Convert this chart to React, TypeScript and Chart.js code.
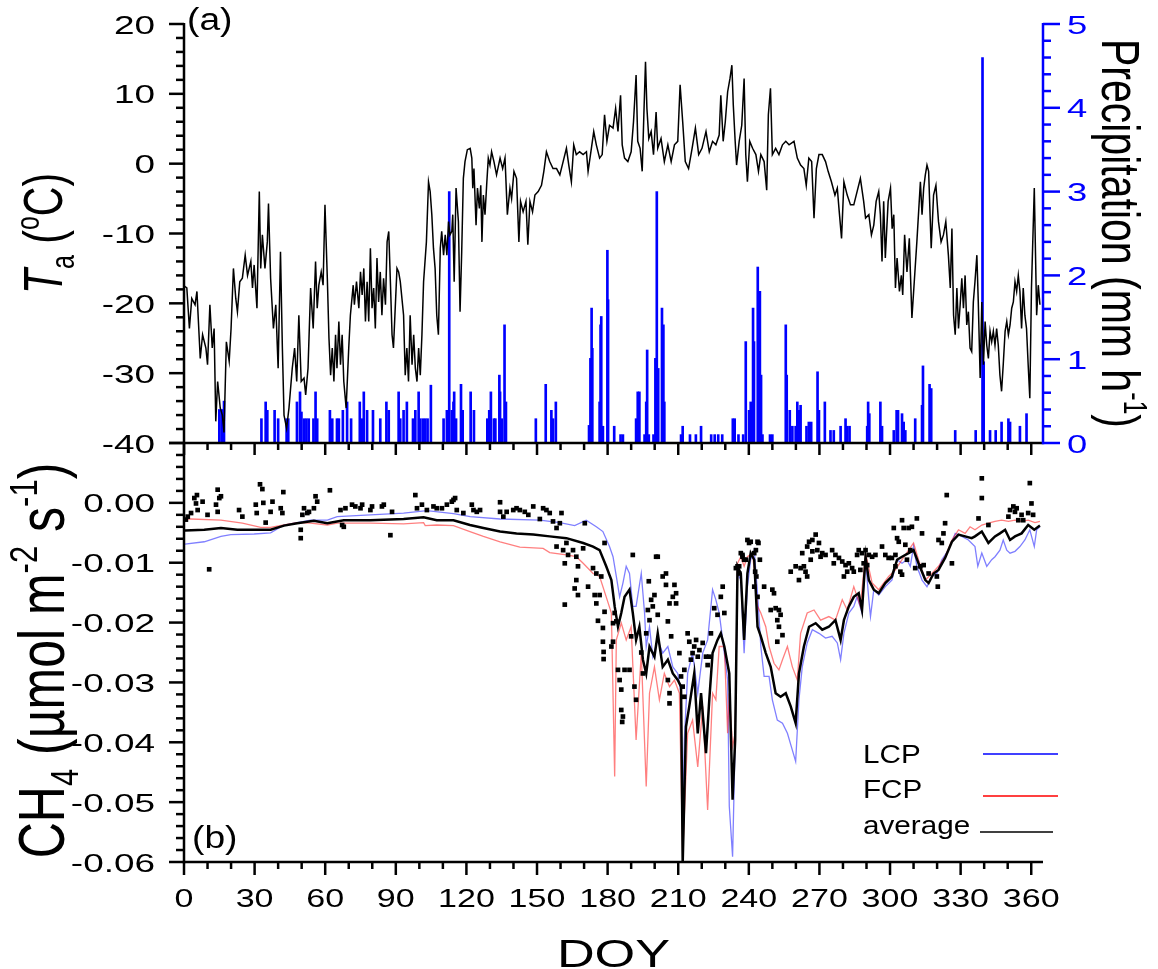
import React, { useEffect, useRef } from 'react';
import { Chart, registerables } from 'chart.js';

Chart.register(...registerables);

const W = 1158;
const H = 969;
const FONT = '"Liberation Sans", Arial, Helvetica, sans-serif';

// ---------- DATA (DOY, value) ----------
// Air temperature (°C)
const tempSeries: [number, number][] = [
  [0, -17.5], [1.2, -17.8], [2.3, -23.6], [3.3, -19.3], [4.7, -20.2], [5.5, -18.3], [6.9, -27.9], [7.9, -24.5],
  [9.3, -26.4], [10, -28.8], [11, -20.2], [12, -26.4], [12.8, -23.6], [13.5, -36.9], [14.3, -31.2], [15.4, -35],
  [16.3, -36], [17, -38.5], [18, -25.5], [19.2, -28.3], [20, -23.6], [21, -15], [22, -19.3], [22.7, -21.2],
  [23.7, -16.9], [24.8, -16.4], [26, -13.1], [27, -16], [28.4, -14], [29.1, -17.8], [29.8, -14.5], [31, -20.7],
  [32, -4], [32.6, -15], [33.3, -10.2], [34.4, -15], [35.4, -11.2], [35.9, -5.7], [36.8, -16.4], [38, -23.6],
  [39, -20.2], [40, -29.3], [41, -12.6], [41.8, -26.4], [42.5, -36], [43.6, -37.9], [44.6, -35], [46, -29.3],
  [47, -26.4], [47.9, -31.2], [48.8, -21.7], [49.8, -31.2], [51, -30.7], [51.7, -33.1], [52.7, -29.3], [53.8, -17.8],
  [54.9, -23.6], [55.9, -14], [56.6, -20.7], [57.3, -17.4], [58.3, -15.5], [59.1, -17.4], [59.9, -5.9], [60.9, -16.4],
  [61.6, -25], [62.3, -30.3], [63, -26.4], [63.7, -31.2], [64.4, -24.5], [65, -29.3], [65.8, -22.6], [66.5, -28.8],
  [67.2, -24.5], [67.9, -31.2], [68.9, -35], [70, -26.4], [70.7, -21.7], [71.9, -17.4], [72.4, -20.2], [73.3, -16.9],
  [74.3, -20.7], [75, -15.5], [75.7, -18.8], [76.4, -15], [77.1, -22.6], [77.8, -16.9], [78.5, -22.6], [79.2, -12.1],
  [79.9, -20.7], [80.6, -17.8], [81.3, -23.6], [82, -13.5], [82.7, -19.8], [83.4, -15.5], [84.1, -21.7], [84.8, -16.4],
  [85.6, -20.2], [86.3, -11.2], [87, -9.7], [87.7, -16.9], [88.4, -24.5], [89, -26.4], [90.5, -15], [91.2, -15.5],
  [91.9, -16.9], [93.3, -21.7], [94, -30.3], [94.7, -26.4], [95.4, -31.2], [96.1, -21.7], [96.9, -28.8], [97.6, -24.5],
  [98.3, -29.3], [99, -31.2], [99.7, -26.4], [100.4, -30.3], [101.1, -24.5], [101.8, -16.9], [103, -11.2], [103.9, -2.6],
  [104.6, -4], [105.3, -7.3], [106, -12.1], [106.7, -15], [107.4, -21.7], [108.1, -24.5], [108.9, -12.1], [109.5, -9.7],
  [110.3, -13.1], [111, -10.2], [111.7, -13.1], [112.4, -8.3], [113, -10.2], [113.8, -9.7], [114.2, -7.3], [114.8, -16.9],
  [115.6, -3.5], [116.6, -8.3], [117.3, -21.2], [118, -12.6], [118.7, -2.1], [119.4, 0.3], [120.4, 2], [121.6, 2.2],
  [122.3, 0.8], [122.7, -3.5], [123.2, -0.7], [124.1, -8.8], [124.7, -3.5], [125.5, -6.4], [126.1, -3.1], [126.6, -11.2],
  [127.2, -4.5], [127.9, -7.3], [128.6, -3.1], [129.3, 0.8], [130, -0.2], [130.7, 1.7], [131.7, 0.3], [132.8, -1.6],
  [134.3, 0.8], [135.4, -0.7], [136.4, 0.8], [137.4, -7.3], [138.5, -3.5], [139.2, -5], [140.2, -1.1], [141.3, -2.1],
  [142.3, -11.2], [143, -5.4], [144.1, -6.9], [145.3, -5.4], [146.1, -11.6], [147, -5.4], [148.1, -6.9], [149.1, -4.5],
  [150.5, -4], [151.9, -3.1], [152.9, -1.1], [154, 1.7], [155.4, 0.3], [156.8, -0.7], [158.3, -0.7], [159.7, -1.6],
  [161.1, 0.3], [162.5, 2.2], [163.5, -0.2], [164.6, -2.6], [165.6, 2.7], [166.7, 1.3], [168.1, 1.7], [169.6, 1.3],
  [171, 1.7], [171.7, -1.1], [173.1, 2.2], [174.1, 4.6], [175.2, 2.7], [176.6, 0.8], [177.7, 1.3], [178.7, 7],
  [179.7, 3.2], [180.8, 5.5], [182.3, 5.1], [183.4, 7.9], [184.4, 4.6], [185.5, 9.8], [186.2, 2.7], [187.2, 0.8],
  [188.6, 0.3], [190, 1.7], [191, 6], [192.1, 12.7], [192.8, 3.2], [193.8, 2.2], [194.7, -1.1], [195.4, 7],
  [196.1, 14.6], [196.7, 7.9], [197.5, 3.6], [198.5, 4.6], [199.5, 1.3], [200.6, 7.4], [201.3, 2.2], [202.7, 3.6],
  [204.1, 0.3], [205.6, 2.7], [207, 0.3], [208.4, 2.7], [209.8, 3.2], [210.8, 11.3], [211.9, 6], [213, 0.3],
  [214.4, -0.7], [215.9, 2.2], [217.3, 5.1], [218.7, 1.3], [220.1, 2.2], [221.8, 4.6], [223.2, 1.7], [224.6, 3.2],
  [226, 2.7], [227.4, 4.1], [228.1, 9.8], [229.1, 3.2], [230, 6], [231, 10.3], [232, 12.2], [232.8, 14.1],
  [233.4, 8.4], [234.2, 3.2], [234.8, -0.2], [235.9, 3.2], [237, 5.5], [238, 12.2], [238.7, 1.3], [239.4, -2.6],
  [240.4, 3.2], [241.6, 2.2], [243, 1.3], [244.1, -1.1], [245.1, 1.3], [246.5, 0.3], [247.6, -3.8], [248.3, 7],
  [249.2, 10.8], [250, 1.3], [251.4, 2.2], [252.8, 1.3], [254.3, 2.7], [255.7, 3.2], [257.1, 2.7], [259.2, 3.2],
  [260.6, 0.8], [262, -0.2], [263.4, -0.7], [264.4, -3.1], [265.5, 0.8], [266.7, 0.3], [267.7, -7.8], [268.7, -0.7],
  [269.8, 1.3], [271.2, 1.3], [272.6, 0.3], [273.7, -1.1], [275.1, -2.6], [276.6, -4.5], [277.6, -3.5], [278.3, -6.4],
  [279.4, -10.7], [280.4, -2.6], [281.8, -4.5], [283.2, -5.9], [284.6, -5.9], [286, -4], [287.4, -2.1], [288.8, -5.4],
  [289.6, -7.8], [291, -7.3], [292.1, -10.2], [293.1, -8.8], [294.1, -5.4], [295.2, -4], [295.9, -7.3], [296.6, -14],
  [297.3, -5.4], [298, -13.5], [299.2, -5.4], [300.2, -3.5], [300.9, -9.3], [301.6, -7.3], [302.3, -17.8], [303, -13.5],
  [304, -18.3], [304.8, -16], [305.4, -18.8], [306.2, -10.2], [307.2, -15.5], [308.2, -10.7], [308.6, -15], [309.3, -22.1],
  [310.3, -16.9], [311.4, -11.2], [312.9, -2.6], [313.6, -7.3], [314.3, -3.5], [315, -1.6], [315.7, -0.2], [316.4, -1.1],
  [317.5, -12.1], [318.5, -4.5], [319.5, -3.1], [320.6, -8.3], [321.7, -11.2], [322.7, -10.2], [323.7, -8.3], [324.8, -13.1],
  [325.6, -17.8], [326.3, -9.3], [327, -21.7], [327.7, -24.5], [328.4, -17.8], [329.1, -23.6], [329.8, -20.2], [330.5, -16.4],
  [331.2, -20.7], [331.9, -16], [332.6, -23.1], [333.3, -21.2], [334, -26.4], [334.7, -26.9], [335.4, -19.8], [336.1, -16.9],
  [336.9, -13.1], [337.5, -19.8], [338.3, -30.7], [339, -19.8], [339.7, -28.8], [340.4, -22.6], [341.1, -26], [341.8, -27.9],
  [342.5, -24], [343.2, -25.5], [343.9, -24], [344.6, -26], [345.3, -23.6], [346, -26], [346.7, -30.3], [347.4, -32.6],
  [348.1, -28.8], [348.9, -24], [349.6, -22.6], [350.3, -24.5], [351, -23.1], [351.7, -20.7], [352.4, -19.8], [353.1, -16.9],
  [353.8, -18.3], [354.5, -16], [355.2, -18.3], [355.9, -23.6], [356.6, -17.8], [357.3, -21.7], [358, -23.6], [358.7, -28.8],
  [359.4, -33.6], [360.1, -17.8], [361.3, -3.5], [362.3, -21.7], [363, -17.4], [363.7, -20.2],
];

// Precipitation (mm h-1)
const precipSeries: [number, number][] = [
  [15, 0.4], [16, 0.4], [17, 0.5], [32.9, 0.29], [34.7, 0.49], [35.4, 0.39], [38.5, 0.39], [40, 0.29], [43.6, 0.29],
  [44.3, 0.29], [48, 0.49], [49.3, 0.61], [49.9, 0.37], [51, 0.29], [52, 0.29], [53, 0.29], [55, 0.29], [55.9, 0.61],
  [56.6, 0.29], [62, 0.39], [63, 0.29], [65, 0.29], [65.8, 0.29], [67.5, 0.39], [69.3, 0.49], [71, 0.29], [74.7, 0.49],
  [75.7, 0.29], [76.4, 0.61], [77.8, 0.39], [80.3, 0.39], [83.4, 0.29], [86, 0.49], [87, 0.39], [91.2, 0.61], [91.9, 0.29],
  [93.3, 0.39], [94.7, 0.49], [97.3, 0.29], [98.3, 0.39], [99.7, 0.61], [100.4, 0.29], [101.5, 0.29], [102.5, 0.29],
  [103.5, 0.29], [104.9, 0.69], [110.3, 0.29], [111.7, 0.39], [112.7, 3.0], [113.8, 0.39], [114.5, 0.49], [114.8, 0.61],
  [115.6, 0.29], [117.7, 0.7], [118.4, 0.39], [121.8, 0.61], [123.2, 0.39], [128.9, 0.29], [129.7, 0.39], [130.4, 0.61],
  [131.7, 0.29], [132.3, 0.29], [134, 0.81], [134.3, 0.61], [135, 0.29], [136.2, 1.41], [136.8, 0.49], [149.5, 0.29],
  [153.7, 0.7], [156.1, 0.39], [156.8, 0.29], [158, 0.49], [172.1, 0.21], [172.7, 1.01], [173.2, 1.61], [173.5, 1.13],
  [176.6, 0.49], [177, 1.41], [177.3, 1.51], [178, 0.2], [179.9, 2.3], [180.2, 1.71], [182.8, 0.2], [185.5, 0.1],
  [186.5, 0.1], [192.1, 0.29], [192.8, 0.61], [193.5, 0.61], [195.7, 0.1], [196.4, 0.49], [196.8, 1.11], [197.5, 0.1],
  [199.5, 0.1], [200.3, 1.01], [200.9, 3.0], [201.5, 0.89], [203.1, 1.61], [203.7, 1.41], [204.1, 0.49], [211.2, 0.1],
  [211.9, 0.2], [215, 0.1], [217.5, 0.1], [219.7, 0.2], [224, 0.1], [225.5, 0.1], [227, 0.1], [228.7, 0.1], [233.2, 0.29],
  [234, 0.29], [235.6, 0.1], [237.6, 0.1], [238.7, 1.21], [240.1, 0.39], [240.8, 0.49], [241.8, 1.61], [242.2, 1.21],
  [243.8, 2.1], [244.7, 1.81], [245.2, 0.81], [245.8, 0.1], [249, 0.1], [250, 0.1], [255.7, 1.41], [256.1, 0.81],
  [257.4, 0.39], [258.5, 0.2], [259.9, 0.2], [260.6, 0.49], [261.3, 0.39], [262, 0.45], [264.5, 0.2], [265.5, 0.25],
  [266.5, 0.25], [269.2, 0.85], [269.8, 0.39], [272.3, 0.49], [274.7, 0.15], [276.1, 0.15], [279, 0.2], [281.1, 0.29],
  [281.8, 0.2], [282.8, 0.2], [290.3, 0.2], [290.7, 0.49], [291.2, 0.35], [295.9, 0.49], [296.6, 0.2], [301.6, 0.15],
  [302.8, 0.39], [303.4, 0.39], [305.1, 0.35], [305.8, 0.25], [306.5, 0.15], [310.7, 0.29], [313.6, 0.45], [314, 0.92],
  [316.8, 0.7], [317.5, 0.65], [327.7, 0.15], [336.4, 0.15], [339.3, 4.6], [339.8, 0.97], [342.5, 0.15], [344.9, 0.15],
  [347.4, 0.25], [350.3, 0.29], [351, 0.25], [355.2, 0.2], [358, 0.35],
];

// CH4 flux, LCP (µmol m-2 s-1)
const lcpSeries: [number, number][] = [
  [0.4, -0.0069], [8.6, -0.0065], [15.7, -0.0056], [19.9, -0.0053], [29.8, -0.0052], [36.8, -0.005], [42.5, -0.0037],
  [48.1, -0.0033], [53.8, -0.0029], [60.9, -0.0029], [65.1, -0.0023], [79.2, -0.002], [93.3, -0.0017], [103.2, -0.0013],
  [114.5, -0.0018], [121.6, -0.0023], [134.3, -0.0027], [151.2, -0.0029], [159.7, -0.0033], [166, -0.0038], [170.9, -0.0029],
  [175.2, -0.004], [178, -0.0048], [180.8, -0.0073], [182.3, -0.009], [183.7, -0.0123], [185.1, -0.0157], [186.5, -0.0134],
  [187.9, -0.0106], [189.3, -0.0118], [190.7, -0.0173], [192.1, -0.0173], [194.3, -0.0118], [195.7, -0.0184], [196.4, -0.024],
  [197.8, -0.0207], [199.2, -0.0257], [201.3, -0.0229], [203.4, -0.0251], [205.6, -0.024], [207.7, -0.0274], [209.8, -0.0285],
  [211.2, -0.0318], [211.9, -0.0535], [212.6, -0.0396], [214, -0.0285], [216.1, -0.0251], [218.3, -0.0318], [220.4, -0.0251],
  [222.5, -0.0229], [224.6, -0.0145], [226, -0.0162], [227.4, -0.0184], [228.9, -0.0229], [231, -0.0296], [231.7, -0.0507],
  [233.1, -0.0591], [234.2, -0.0396], [235.2, -0.0118], [236.6, -0.0129], [238, -0.0251], [239.4, -0.014], [240.8, -0.0095],
  [242.3, -0.0079], [243.7, -0.0151], [245.1, -0.024], [246.5, -0.029], [248.6, -0.029], [250, -0.0329], [252.1, -0.0363],
  [254.3, -0.0368], [256.4, -0.0385], [258.5, -0.0413], [259.9, -0.0432], [261.3, -0.0329], [262.7, -0.0274], [264.8, -0.0234],
  [267, -0.0212], [269.8, -0.0218], [272.6, -0.0226], [275.4, -0.0223], [277.6, -0.0234], [279, -0.0262], [280.4, -0.0218],
  [282.5, -0.0184], [284.6, -0.0173], [286, -0.0157], [288.1, -0.0184], [289.6, -0.0095], [291, -0.0162], [291.7, -0.019],
  [293.1, -0.0145], [295.2, -0.0154], [298, -0.014], [300.8, -0.0129], [303, -0.0095], [305.1, -0.0101], [307.2, -0.0095],
  [308.6, -0.0106], [310, -0.0073], [311.4, -0.0106], [313.6, -0.0129], [315.7, -0.014], [317.8, -0.0123], [319.9, -0.0118],
  [322, -0.0095], [324.8, -0.0079], [327.7, -0.0051], [330.5, -0.0056], [333.3, -0.0062], [336.1, -0.0073], [337.3, -0.0106],
  [339, -0.0084], [341.1, -0.0106], [343.2, -0.0095], [344.6, -0.009], [346.7, -0.0079], [348.1, -0.0062], [349.6, -0.0079],
  [351, -0.0084], [353.1, -0.0081], [355.2, -0.0073], [357.3, -0.0062], [359.4, -0.0045], [361.3, -0.0073], [362.3, -0.0045],
  [363.7, -0.004],
];

// CH4 flux, FCP
const fcpSeries: [number, number][] = [
  [0.4, -0.0027], [3, -0.0027], [15.7, -0.0029], [24.8, -0.0034], [32.6, -0.0041], [36.8, -0.0041], [42.5, -0.0037],
  [48.1, -0.0033], [53.8, -0.0034], [60.9, -0.0037], [65.1, -0.0034], [79.2, -0.0034], [93.3, -0.0035], [101.8, -0.0033],
  [102.5, -0.0038], [107.4, -0.0037], [114.5, -0.0038], [121.5, -0.0048], [127.2, -0.0056], [134.3, -0.0065], [142.7, -0.0074],
  [152.6, -0.0076], [155.4, -0.0083], [162.5, -0.0087], [166.7, -0.009], [169.6, -0.0101], [173.8, -0.0118], [176.6, -0.0123],
  [179.4, -0.0157], [181.6, -0.0184], [183, -0.0457], [183.7, -0.0229], [185.8, -0.0201], [187.9, -0.0229], [190, -0.0207],
  [192.1, -0.0396], [194.3, -0.0251], [196.4, -0.0474], [197.8, -0.0318], [199.9, -0.0274], [202, -0.0329], [204.1, -0.0285],
  [206.3, -0.0307], [208.4, -0.0296], [210.5, -0.0318], [211.9, -0.0591], [214, -0.0385], [216.1, -0.0363], [218.3, -0.0441],
  [220.4, -0.034], [222.5, -0.0513], [224.6, -0.0318], [226, -0.0329], [227.4, -0.024], [229.6, -0.024], [231, -0.0385],
  [231.7, -0.0318], [233.1, -0.0407], [234.2, -0.0385], [235.2, -0.0101], [236.6, -0.009], [238, -0.0106], [239.4, -0.009],
  [241.6, -0.0084], [243.7, -0.0173], [245.1, -0.0184], [247.2, -0.0207], [248.6, -0.024], [250.7, -0.0268], [252.8, -0.0279],
  [254.3, -0.0262], [256.4, -0.024], [258.5, -0.0274], [260.6, -0.0296], [262, -0.0218], [264.8, -0.0184], [267.7, -0.0179],
  [270.5, -0.0196], [274, -0.019], [276.8, -0.0196], [279.7, -0.0162], [281.8, -0.0179], [284.6, -0.014], [287.4, -0.0173],
  [289.6, -0.0084], [292.4, -0.0134], [295.2, -0.0145], [299.4, -0.0123], [302.3, -0.0112], [305.1, -0.0095], [307.9, -0.0079],
  [310, -0.0067], [312.1, -0.0095], [315, -0.0129], [317.8, -0.0118], [320.6, -0.0106], [323.4, -0.009], [326.3, -0.0062],
  [329.1, -0.0045], [331.9, -0.0051], [334, -0.004], [336.1, -0.0045], [339, -0.0037], [341.8, -0.0034], [344.6, -0.0031],
  [347.4, -0.0029], [350.3, -0.0031], [353.1, -0.0029], [355.9, -0.0031], [358.7, -0.0029], [361.6, -0.0033], [363.7, -0.0031],
];

// CH4 flux, average
const avgSeries: [number, number][] = [
  [0.4, -0.0046], [8.6, -0.0045], [15.7, -0.0042], [22.7, -0.0045], [29.8, -0.0045], [36.8, -0.0045], [42.5, -0.0038],
  [48.1, -0.0034], [55.2, -0.003], [60.9, -0.0034], [67.9, -0.0029], [79.2, -0.0029], [93.3, -0.0027], [101.8, -0.0024],
  [107.4, -0.0029], [114.5, -0.0029], [121.5, -0.0037], [127.2, -0.0042], [134.3, -0.0048], [141.3, -0.0051], [148.4, -0.0053],
  [155.4, -0.0056], [162.5, -0.0059], [169.6, -0.0067], [173.8, -0.0073], [176.6, -0.0079], [179.4, -0.0106], [181.6, -0.0129],
  [183, -0.0173], [184.4, -0.0207], [185.8, -0.0184], [187.2, -0.0157], [189.3, -0.0145], [190.7, -0.0184], [192.1, -0.0229],
  [193.5, -0.0207], [195, -0.0262], [196.4, -0.0285], [197.8, -0.024], [199.9, -0.0257], [201.3, -0.0218], [203.4, -0.0274],
  [205.6, -0.0262], [207.7, -0.0285], [209.8, -0.0296], [211.2, -0.0307], [211.9, -0.0602], [213.3, -0.0374], [214.7, -0.034],
  [216.8, -0.0285], [218.3, -0.0385], [219.7, -0.0318], [221.8, -0.0418], [223.2, -0.0329], [224.6, -0.0251], [226.7, -0.0229],
  [228.1, -0.0218], [229.6, -0.024], [231.7, -0.0285], [233.1, -0.0496], [234.2, -0.0396], [235.2, -0.0106], [236.6, -0.0118],
  [238, -0.0229], [239.4, -0.0118], [240.8, -0.0084], [242.3, -0.0095], [243.7, -0.0207], [245.1, -0.0223], [247.2, -0.0251],
  [249.3, -0.0274], [251.4, -0.0318], [253.5, -0.0324], [255.7, -0.0318], [257.8, -0.034], [259.9, -0.0368], [261.3, -0.0285],
  [263.4, -0.024], [265.6, -0.0207], [268.4, -0.0201], [271.2, -0.0212], [274, -0.0207], [276.8, -0.0196], [279, -0.0229],
  [280.4, -0.0196], [282.5, -0.0173], [284.6, -0.0157], [286.7, -0.0151], [288.1, -0.0179], [289.6, -0.009], [291, -0.0129],
  [293.1, -0.0145], [295.2, -0.0151], [298, -0.0134], [300.8, -0.0123], [303, -0.0095], [305.1, -0.009], [307.9, -0.0084],
  [310, -0.0079], [312.1, -0.0101], [315, -0.0129], [316.4, -0.0134], [318.5, -0.0118], [320.6, -0.0112], [323.4, -0.0092],
  [326.3, -0.0065], [329.1, -0.0053], [331.9, -0.0056], [334.7, -0.0059], [336.1, -0.0056], [339, -0.0048], [341.8, -0.0067],
  [344.6, -0.0056], [346.7, -0.0051], [348.9, -0.0045], [351, -0.0062], [353.1, -0.0056], [355.9, -0.0051], [358.7, -0.0037],
  [361.3, -0.0045], [363.7, -0.0038],
];

// CH4 flux, individual measurements (black squares)
const obsPoints: [number, number][] = [
  [0.8, -0.0028], [1.6, -0.0023], [3, -0.0017], [4.4, 0.0008], [5.5, 0.0013], [5.1, -0.0001], [5.8, -0.0012], [7.9, 0.0002],
  [10, -0.002], [10.7, -0.0111], [13.6, -0.0003], [14.3, 0.0022], [15, 0.0008], [15.7, 0.0011], [14.3, -0.0015], [23.4, -0.0012],
  [24.8, -0.0023], [30.5, -0.0003], [30.9, -0.0017], [32.3, 0.0031], [33.3, 0.0023], [33.7, 0], [34.7, -0.0033], [36.8, -0.0015],
  [37.6, 0.0002], [41.1, -0.0009], [41.8, -0.0017], [42.2, 0.0018], [49.6, -0.0045], [49.6, -0.0059], [50.3, -0.002], [51, -0.0009],
  [52.4, -0.0017], [53.1, -0.0015], [55.2, -0.0009], [55.9, 0.0011], [56.6, 0.0002], [62, 0.0021], [66.5, -0.0012], [67.2, -0.0037],
  [67.9, -0.004], [68.6, -0.0009], [71.4, -0.0003], [72.8, -0.0006], [75, -0.0009], [75.7, -0.0003], [79.2, -0.0012], [79.9, -0.0006],
  [84.1, -0.0006], [84.9, -0.0003], [87.7, -0.0054], [88.4, -0.0015], [98.3, 0.0013], [99, -0.0009], [101.1, -0.0003], [103.2, -0.0012],
  [106, -0.0006], [107.4, -0.0009], [109.6, -0.0009], [111.7, -0.0003], [113.8, 0.0002], [115.2, 0.0008], [115.9, -0.0012], [118.7, -0.0017],
  [114.5, 0.0005], [122.3, -0.0003], [123, -0.0012], [124.4, -0.0015], [125.8, -0.0012], [134.3, 0.0001], [134.3, -0.0015], [135.7, -0.0023],
  [137.1, -0.0015], [139.9, -0.0012], [141.3, -0.0009], [142.7, -0.0012], [144.8, -0.0015], [146.3, -0.002], [148.4, -0.0006], [151.2, -0.0027],
  [152.6, -0.0009], [154, -0.0012], [155.4, -0.0017], [156.8, -0.0031], [158.3, -0.0042], [159.7, -0.0034], [160.4, -0.0017], [158.3, -0.0073],
  [161.1, -0.0079], [161.8, -0.0101], [163.2, -0.0087], [162.5, -0.0067], [165.3, -0.0079], [167.4, -0.0106], [166.7, -0.009], [169.6, -0.0076],
  [170.3, -0.0034], [171.7, -0.014], [166.7, -0.0129], [166, -0.0143], [167.4, -0.0154], [161.8, -0.017], [173.8, -0.0109], [175.2, -0.0118],
  [174.5, -0.0154], [175.2, -0.0168], [176.6, -0.0154], [177.3, -0.0123], [178.7, -0.0067], [178.7, -0.0182], [175.9, -0.0197], [178, -0.0209],
  [178, -0.0232], [178.3, -0.0249], [178.3, -0.0261], [181.6, -0.024], [182.3, -0.0232], [182.3, -0.0201], [183, -0.0184], [183.7, -0.0198],
  [184.4, -0.0279], [185.1, -0.0296], [185.8, -0.0346], [186.5, -0.0357], [186.2, -0.0366], [187.2, -0.0279], [185.8, -0.0312], [189.3, -0.0279],
  [190, -0.0223], [190.7, -0.0087], [191.4, -0.0307], [192.1, -0.0329], [194.3, -0.025], [195, -0.0285], [196.4, -0.0218], [197.1, -0.0179],
  [197.8, -0.0196], [197.5, -0.0131], [198.5, -0.0162], [199.2, -0.0173], [200.6, -0.009], [201.3, -0.009], [199.9, -0.0154], [201.3, -0.0187],
  [203.4, -0.0123], [204.8, -0.0118], [204.8, -0.0137], [205.6, -0.0198], [206.3, -0.0168], [207.7, -0.0157], [208.4, -0.0137], [209.1, -0.0151],
  [209.1, -0.0168], [205.6, -0.0296], [206.3, -0.0318], [206.3, -0.0335], [207, -0.0223], [210.5, -0.0251], [211.2, -0.029], [211.9, -0.0307],
  [212.6, -0.0324], [212.6, -0.0279], [214, -0.0218], [214.7, -0.0232], [215.4, -0.0262], [216.1, -0.0251], [216.8, -0.024], [217.6, -0.0229],
  [218.3, -0.0257], [219, -0.0246], [220.4, -0.0234], [221.8, -0.0257], [222.5, -0.0271], [223.2, -0.0257], [223.9, -0.0218], [225.3, -0.0176],
  [226.7, -0.0187], [228.1, -0.0157], [228.9, -0.014], [229.6, -0.0184], [234.5, -0.0109], [235.9, -0.0106], [237.3, -0.009], [238.7, -0.0095],
  [239.4, -0.0062], [235.2, -0.0106], [235.9, -0.0118], [236.6, -0.0084], [237.3, -0.0087], [238, -0.0095], [240.1, -0.0067], [240.8, -0.0065],
  [242.3, -0.0084], [243, -0.0079], [243.7, -0.0065], [244.1, -0.0067], [244.7, -0.0095], [242.7, -0.0115], [243.2, -0.0123], [242.3, -0.014],
  [243.7, -0.0157], [246.5, -0.014], [250, -0.0145], [250.7, -0.0151], [249.3, -0.0179], [251.4, -0.0176], [252.8, -0.0179], [252.1, -0.0196],
  [253.5, -0.0187], [252.8, -0.0207], [254.3, -0.0221], [252.1, -0.0232], [257.8, -0.0115], [259.9, -0.0106], [261.3, -0.0129], [262, -0.0109],
  [263.4, -0.0106], [264.1, -0.0115], [264.8, -0.0123], [262.7, -0.0084], [264.8, -0.0073], [265.6, -0.0065], [267, -0.0062], [268.4, -0.0053],
  [269.8, -0.0067], [269.1, -0.0079], [270.5, -0.009], [271.2, -0.0084], [272.6, -0.0087], [266.3, -0.0095], [267, -0.0081], [275.4, -0.0079],
  [276.8, -0.0087], [276.1, -0.0101], [278.3, -0.0092], [279.7, -0.0098], [281.1, -0.0104], [282.5, -0.0101], [283.9, -0.0109], [284.6, -0.0115],
  [281.8, -0.0115], [280.4, -0.0123], [286, -0.0087], [286.7, -0.0079], [288.1, -0.0084], [288.8, -0.0101], [289.6, -0.0079], [291, -0.0087],
  [287.4, -0.0112], [290.3, -0.0104], [292.4, -0.009], [293.8, -0.0087], [296.6, -0.0073], [298, -0.0087], [299.4, -0.0092], [300.8, -0.0092],
  [302.3, -0.0087], [301.6, -0.0042], [303, -0.0059], [303.7, -0.0065], [305.1, -0.0029], [305.8, -0.0042], [307.9, -0.0042], [309.3, -0.004],
  [311.4, -0.0026], [313.6, -0.0051], [306.5, -0.007], [304.4, -0.0115], [302.3, -0.0106], [305.1, -0.012], [307.2, -0.0095], [308.6, -0.0079],
  [310.7, -0.0109], [312.9, -0.0106], [314.3, -0.0104], [316.4, -0.0118], [319.9, -0.0123], [320.3, -0.014], [320.6, -0.0062], [322, -0.0067],
  [322.7, -0.0051], [323.4, -0.0034], [324.1, 0.0013], [326.3, -0.0101], [339, 0.0041], [339, 0.0008], [337.6, -0.0026], [341.8, -0.0037],
  [350.3, -0.0023], [351, -0.0012], [352.4, -0.0006], [353.1, -0.0015], [353.8, -0.0009], [354.5, -0.0029], [355.9, -0.002], [356.6, -0.0029],
  [358.7, -0.0017], [359.4, 0.0033], [360.1, -0.0001], [360.8, -0.002],
];

// Axis tick labels
const xTickLabels = [0, 30, 60, 90, 120, 150, 180, 210, 240, 270, 300, 330, 360];
const tempTickLabels = [20, 10, 0, -10, -20, -30, -40];
const precipTickLabels = [0, 1, 2, 3, 4, 5];
const ch4TickValues = [0, -0.01, -0.02, -0.03, -0.04, -0.05, -0.06];
const ch4TickLabels = ['0.00', '-0.01', '-0.02', '-0.03', '-0.04', '-0.05', '-0.06'];
const legendLabels = ['LCP', 'FCP', 'average'];
const legendColors = ['#0000ff', '#ff0000', '#000000'];

// ---------- drawing helpers ----------
type Run = { t: string; s?: number; dy?: number; it?: boolean };

function seg(ctx: CanvasRenderingContext2D, x1: number, y1: number, x2: number, y2: number, color: string, w: number) {
  ctx.beginPath();
  ctx.strokeStyle = color;
  ctx.lineWidth = w;
  ctx.moveTo(x1, y1);
  ctx.lineTo(x2, y2);
  ctx.stroke();
}

function txt(
  ctx: CanvasRenderingContext2D, s: string, x: number, y: number,
  size: number, align: CanvasTextAlign, sx: number, color = '#000'
) {
  ctx.save();
  ctx.translate(x, y);
  ctx.scale(sx, 1);
  ctx.font = `${size}px ${FONT}`;
  ctx.fillStyle = color;
  ctx.textAlign = align;
  ctx.textBaseline = 'alphabetic';
  ctx.fillText(s, 0, 0);
  ctx.restore();
}

function rich(ctx: CanvasRenderingContext2D, runs: Run[], bx: number, cy: number, rot: number, size: number, sx: number) {
  ctx.save();
  ctx.translate(bx, cy);
  ctx.scale(sx, 1);
  ctx.rotate(rot);
  ctx.fillStyle = '#000';
  ctx.textBaseline = 'alphabetic';
  ctx.textAlign = 'left';
  const fontOf = (r: Run) => `${r.it ? 'italic ' : ''}${Math.round(size * (r.s || 1))}px ${FONT}`;
  let total = 0;
  const widths = runs.map((r) => {
    ctx.font = fontOf(r);
    const w = ctx.measureText(r.t).width;
    total += w;
    return w;
  });
  let x = -total / 2;
  runs.forEach((r, i) => {
    ctx.font = fontOf(r);
    ctx.fillText(r.t, x, (r.dy || 0) * size);
    x += widths[i];
  });
  ctx.restore();
}

const axesPlugin = {
  id: 'customAxes',
  afterDraw(chart: any) {
    const ctx: CanvasRenderingContext2D = chart.ctx;
    const xs = chart.scales.x;
    const yT = chart.scales.yT;
    const yC = chart.scales.yC;
    const yP = chart.scales.yP;
    const L = xs.getPixelForValue(0);
    const R = xs.getPixelForValue(365);
    const top = yT.getPixelForValue(20);
    const mid = yT.getPixelForValue(-40);
    const bot = yC.getPixelForValue(-0.06);
    ctx.save();
    ctx.lineCap = 'butt';
    const LW = 2.5;

    // axis lines
    seg(ctx, L, top - 1, L, bot + 1.2, '#000', LW);
    seg(ctx, L - 1.2, mid, R, mid, '#000', LW);
    seg(ctx, L - 1.2, bot, R, bot, '#000', LW);
    seg(ctx, R, top - 1, R, mid + 1.2, '#0000ff', LW);

    // x ticks (both panels)
    for (let i = 0; i <= 36; i++) {
      const d = i * 10;
      const px = xs.getPixelForValue(d);
      const major = i % 3 === 0;
      seg(ctx, px, mid, px, mid + (major ? 12 : 7), '#000', LW);
      seg(ctx, px, bot, px, bot + (major ? 13 : 7), '#000', LW);
    }
    xTickLabels.forEach((d) => {
      txt(ctx, String(d), xs.getPixelForValue(d), bot + 45, 26, 'center', 1.31);
    });

    // temperature axis
    for (let i = 0; i <= 30; i++) {
      const v = -40 + i * 2;
      const py = yT.getPixelForValue(v);
      const major = i % 5 === 0;
      seg(ctx, L - (major ? 15 : 8), py, L, py, '#000', LW);
    }
    tempTickLabels.forEach((v) => {
      txt(ctx, String(v), 155, yT.getPixelForValue(v) + 9.5, 26, 'right', 1.42);
    });

    // CH4 axis
    for (let i = 0; i <= 35; i++) {
      const v = -0.06 + i * 0.002;
      const py = yC.getPixelForValue(v);
      const major = i % 5 === 0;
      seg(ctx, L - (major ? 15 : 8), py, L, py, '#000', LW);
    }
    ch4TickValues.forEach((v, i) => {
      txt(ctx, ch4TickLabels[i], 155, yC.getPixelForValue(v) + 9.5, 26, 'right', 1.42);
    });

    // precipitation axis
    for (let i = 0; i <= 25; i++) {
      const v = i * 0.2;
      const py = yP.getPixelForValue(v);
      const major = i % 5 === 0;
      seg(ctx, R, py, R + (major ? 17 : 8), py, '#0000ff', LW);
    }
    precipTickLabels.forEach((v) => {
      txt(ctx, String(v), 1067, yP.getPixelForValue(v) + 9.5, 26, 'left', 1.4, '#0000ff');
    });

    // axis titles
    rich(ctx, [
      { t: 'T', it: true },
      { t: 'a', s: 0.62, dy: 0.22 },
      { t: ' (' },
      { t: 'o', s: 0.62, dy: -0.42 },
      { t: 'C)' },
    ], 62, (top + mid) / 2, -Math.PI / 2, 41, 1.35);

    rich(ctx, [
      { t: 'CH' },
      { t: '4', s: 0.62, dy: 0.22 },
      { t: ' (\u00b5mol m' },
      { t: '-2', s: 0.62, dy: -0.42 },
      { t: ' s' },
      { t: '-1', s: 0.62, dy: -0.42 },
      { t: ')' },
    ], 64, (mid + bot) / 2 + 8, -Math.PI / 2, 50, 1.28);

    rich(ctx, [
      { t: 'Precipitation (mm h' },
      { t: '-1', s: 0.62, dy: -0.42 },
      { t: ')' },
    ], 1102, (top + mid) / 2, Math.PI / 2, 41, 1.3);

    txt(ctx, 'DOY', (L + R) / 2, 967, 39, 'center', 1.34);

    // panel labels
    txt(ctx, '(a)', 187, 30, 31, 'left', 1.2);
    txt(ctx, '(b)', 192, 848, 31, 'left', 1.2);

    // legend
    const legY = [754, 796, 832];
    const legTxtY = [763, 798, 834];
    legendLabels.forEach((lab, i) => {
      txt(ctx, lab, 863, legTxtY[i], 26, 'left', 1.14);
      const x1 = i === 2 ? 980 : 983;
      const x2 = i === 2 ? 1053 : 1058;
      seg(ctx, x1, legY[i], x2, legY[i], legendColors[i], 1.6);
    });

    ctx.restore();
  },
};

const toXY = (arr: [number, number][]) => arr.map(([x, y]) => ({ x, y }));

export default function App() {
  const ref = useRef<HTMLCanvasElement | null>(null);

  useEffect(() => {
    const canvas = ref.current;
    if (!canvas) return;
    const chart = new Chart(canvas, {
      type: 'line',
      data: {
        datasets: [
          {
            type: 'scatter',
            label: 'measurements',
            data: toXY(obsPoints),
            yAxisID: 'yC',
            xAxisID: 'x',
            pointStyle: 'rect',
            pointRadius: 3.3,
            backgroundColor: '#000',
            borderColor: '#000',
            borderWidth: 0,
            showLine: false,
            order: 0,
          } as any,
          {
            type: 'line',
            label: 'average',
            data: toXY(avgSeries),
            yAxisID: 'yC',
            xAxisID: 'x',
            borderColor: '#000',
            borderWidth: 2.5,
            pointRadius: 0,
            tension: 0,
            order: 1,
          },
          {
            type: 'line',
            label: 'FCP',
            data: toXY(fcpSeries),
            yAxisID: 'yC',
            xAxisID: 'x',
            borderColor: 'rgba(255,0,0,0.5)',
            borderWidth: 1.3,
            pointRadius: 0,
            tension: 0,
            order: 2,
          },
          {
            type: 'line',
            label: 'LCP',
            data: toXY(lcpSeries),
            yAxisID: 'yC',
            xAxisID: 'x',
            borderColor: 'rgba(0,0,255,0.5)',
            borderWidth: 1.3,
            pointRadius: 0,
            tension: 0,
            order: 3,
          },
          {
            type: 'line',
            label: 'Ta',
            data: toXY(tempSeries),
            yAxisID: 'yT',
            xAxisID: 'x',
            borderColor: '#000',
            borderWidth: 1.5,
            pointRadius: 0,
            tension: 0,
            order: 4,
          },
          {
            type: 'bar',
            label: 'Precipitation',
            data: toXY(precipSeries),
            yAxisID: 'yP',
            xAxisID: 'x',
            backgroundColor: '#0000ff',
            borderWidth: 0,
            barThickness: 2,
            order: 5,
          } as any,
        ],
      },
      options: {
        responsive: false,
        animation: false,
        devicePixelRatio: 1,
        events: [],
        layout: { padding: { left: 184, right: 115, top: 24, bottom: 107 } },
        plugins: {
          legend: { display: false },
          tooltip: { enabled: false },
          title: { display: false },
        },
        scales: {
          x: { type: 'linear', min: 0, max: 365, display: false, bounds: 'data', offset: false },
          yT: { type: 'linear', min: -100, max: 20, display: false, position: 'left', bounds: 'data' },
          yC: { type: 'linear', min: -0.06, max: 0.08, display: false, position: 'left', bounds: 'data' },
          yP: { type: 'linear', min: -5, max: 5, display: false, position: 'right', bounds: 'data' },
        },
      } as any,
      plugins: [axesPlugin],
    });
    return () => chart.destroy();
  }, []);

  return (
    <div style={{ position: 'absolute', left: 0, top: 0, width: W, height: H, background: '#fff' }}>
      <canvas ref={ref} width={W} height={H} style={{ display: 'block', width: W, height: H }} />
    </div>
  );
}
